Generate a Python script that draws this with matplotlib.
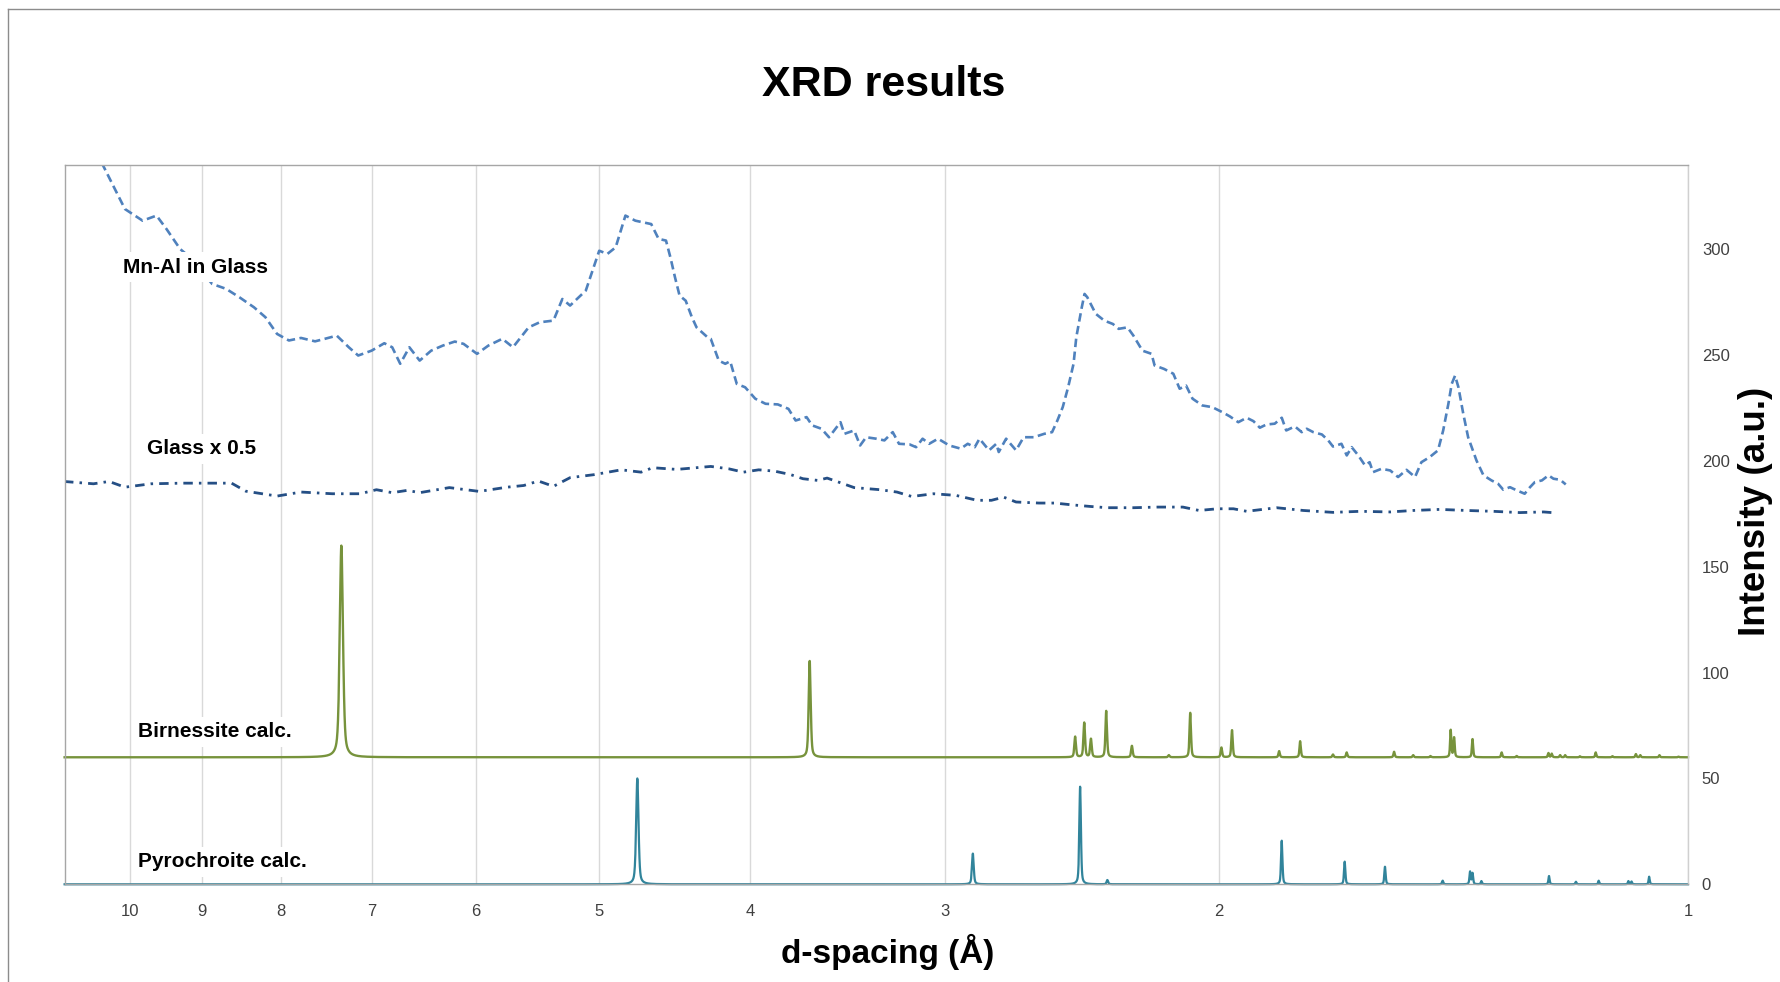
import numpy as np
import matplotlib
matplotlib.use("Agg")
import matplotlib.pyplot as plt
from matplotlib.lines import Line2D

plt.rcParams['font.family'] = ['Liberation Sans', 'DejaVu Sans']

# ---------------- data ----------------
# Measured: Mn-Al in Glass (d-spacing in Angstrom, intensity a.u.)
mnal_d = [10.60, 10.41, 10.08, 9.82, 9.62, 9.48, 9.29, 9.10, 8.97, 8.86, 8.68, 8.51,
          8.33, 8.19, 8.05, 7.91, 7.77, 7.61, 7.50, 7.37, 7.24, 7.14, 7.00, 6.87,
          6.79, 6.71, 6.62, 6.52, 6.41, 6.30, 6.19, 6.11, 5.99, 5.89, 5.77, 5.68,
          5.55, 5.46, 5.35, 5.28, 5.22, 5.10, 5.00, 4.94, 4.88, 4.81, 4.74, 4.63,
          4.58, 4.53, 4.50, 4.47, 4.44, 4.40, 4.36, 4.33, 4.26, 4.24, 4.19, 4.15,
          4.12, 4.08, 4.03, 3.97, 3.91, 3.84, 3.78, 3.74, 3.68, 3.65, 3.60, 3.56,
          3.50, 3.48, 3.43, 3.40, 3.37, 3.32, 3.28, 3.24, 3.21, 3.16, 3.13, 3.10,
          3.07, 3.03, 2.98, 2.93, 2.90, 2.87, 2.85, 2.81, 2.78, 2.77, 2.74, 2.70,
          2.67, 2.63, 2.59, 2.56, 2.54, 2.52, 2.50, 2.48, 2.47, 2.45, 2.44, 2.43,
          2.40, 2.37, 2.34, 2.32, 2.29, 2.27, 2.24, 2.21, 2.20, 2.17, 2.14, 2.12,
          2.10, 2.08, 2.05, 2.02, 1.99, 1.968, 1.944, 1.920, 1.901, 1.883, 1.865,
          1.842, 1.823, 1.811, 1.788, 1.770, 1.757, 1.740, 1.718, 1.702, 1.690,
          1.669, 1.656, 1.644, 1.628, 1.612, 1.601, 1.593, 1.573, 1.553, 1.535,
          1.516, 1.497, 1.483, 1.465, 1.447, 1.436, 1.425, 1.418, 1.411, 1.404,
          1.394, 1.384, 1.367, 1.353, 1.337, 1.324, 1.314, 1.301, 1.288, 1.273,
          1.263, 1.254, 1.241, 1.229, 1.220, 1.208, 1.198]
mnal_i = [352.0, 339.5, 319.0, 313.5, 315.9, 309.6, 300.1, 294.6, 288.3, 283.6, 281.3, 277.3,
          272.6, 267.9, 260.0, 256.9, 258.1, 256.5, 257.7, 259.2, 253.7, 249.8, 252.1, 255.6,
          253.7, 245.9, 253.7, 247.4, 252.1, 254.5, 256.4, 255.3, 250.6, 254.5, 257.7, 253.7,
          263.1, 265.5, 266.3, 276.5, 273.4, 280.5, 299.3, 297.8, 300.9, 315.9, 313.5, 311.9,
          304.9, 304.1, 296.0, 286.7, 278.1, 275.7, 267.9, 263.1, 258.4, 257.7, 247.4, 245.9,
          247.1, 236.4, 234.8, 229.4, 227.0, 226.7, 224.6, 219.1, 220.7, 216.8, 215.2, 211.2,
          218.3, 212.8, 214.4, 207.3, 211.2, 210.5, 209.7, 213.6, 208.1, 207.8, 206.5, 210.5,
          208.1, 210.5, 207.3, 205.8, 208.1, 206.5, 210.5, 205.0, 208.1, 204.2, 210.5, 205.0,
          211.2, 211.2, 212.8, 213.6, 219.1, 225.4, 234.8, 245.9, 258.4, 272.6, 278.9, 277.3,
          269.5, 266.3, 264.7, 262.4, 263.1, 259.2, 252.1, 250.6, 245.1, 243.5, 241.2, 234.1,
          235.6, 229.4, 226.2, 225.4, 223.0, 221.0, 218.3, 220.4, 218.8, 215.7, 217.2,
          217.6, 220.4, 214.4, 216.3, 213.6, 215.2, 213.6, 212.5, 209.7, 206.8,
          208.1, 202.6, 206.5, 202.6, 197.9, 199.4, 194.7, 196.3, 195.5, 192.4,
          195.8, 192.4, 199.4, 201.8, 205.0, 214.4, 227.0, 236.4, 240.3, 234.8,
          222.3, 211.2, 200.2, 193.2, 190.8, 189.2, 186.4, 187.6, 186.1, 184.5,
          187.6, 190.0, 190.8, 193.2, 191.6, 191.1, 188.9]

# Measured: Glass x 0.5
glass_d = [11.03, 10.56, 10.32, 10.08, 9.70, 9.26, 8.79, 8.61, 8.43, 8.05, 7.77, 7.42,
           7.12, 6.95, 6.79, 6.64, 6.52, 6.24, 5.97, 5.73, 5.59, 5.47, 5.35, 5.22,
           5.04, 4.84, 4.70, 4.62, 4.46, 4.41, 4.24, 4.13, 4.04, 3.95, 3.86, 3.77,
           3.70, 3.62, 3.57, 3.51, 3.43, 3.30, 3.22, 3.15, 3.05, 2.95, 2.86, 2.80,
           2.75, 2.70, 2.61, 2.55, 2.49, 2.42, 2.36, 2.27, 2.19, 2.11, 2.06, 2.005,
           1.958, 1.920, 1.837, 1.766, 1.690, 1.623, 1.553, 1.501, 1.443, 1.387,
           1.334, 1.282, 1.238, 1.213]
glass_i = [190.3, 189.2, 190.3, 187.6, 189.2, 189.5, 189.5, 189.5, 185.7, 183.4, 185.3, 184.5,
           184.5, 186.4, 185.0, 186.1, 185.0, 187.4, 185.6, 187.6, 188.4, 190.5, 188.0, 192.1,
           193.5, 195.8, 194.7, 196.8, 196.0, 196.3, 197.4, 196.3, 194.7, 195.8, 195.2, 193.6,
           191.6, 190.8, 191.9, 190.0, 187.4, 186.4, 185.3, 183.2, 184.5, 183.7, 181.4, 181.4,
           182.9, 180.6, 180.1, 180.1, 179.3, 178.5, 177.9, 177.9, 178.2, 178.2, 176.6, 177.4,
           177.4, 176.2, 177.9, 176.6, 175.7, 176.2, 175.9, 176.6, 177.1, 176.6,
           176.2, 175.6, 175.9, 175.4]

# Calculated patterns: peak positions (d, Angstrom) and peak-top intensities (offset scale)
birn_base = 60.0
birn_peak_d = [7.32, 3.663, 2.474, 2.441, 2.417, 2.363, 2.275, 2.154, 2.087, 1.993,
               1.962, 1.830, 1.774, 1.690, 1.656, 1.544, 1.501, 1.463, 1.420, 1.413,
               1.375, 1.317, 1.288, 1.229, 1.223, 1.208, 1.199, 1.173, 1.146, 1.118,
               1.080, 1.073, 1.043, 1.014]
birn_peak_i = [160.0, 105.5, 69.7, 76.3, 68.6, 81.9, 65.4, 61.0, 81.0, 64.6,
               72.8, 62.9, 67.6, 61.3, 62.3, 62.6, 61.0, 60.6, 72.8, 69.2,
               68.6, 62.3, 60.6, 62.0, 61.7, 61.0, 61.0, 60.5, 62.3, 60.5,
               61.5, 61.0, 61.0, 60.3]

pyro_base = 0.0
pyro_peak_d = [4.726, 2.878, 2.456, 2.359, 1.823, 1.661, 1.565, 1.437, 1.380, 1.375,
               1.357, 1.228, 1.180, 1.141, 1.092, 1.087, 1.059]
pyro_peak_i = [50.0, 14.5, 46.1, 2.0, 20.6, 10.7, 8.3, 1.7, 5.9, 5.2,
               1.5, 3.9, 1.2, 1.7, 1.5, 1.3, 3.6]

x_ticks = [10, 9, 8, 7, 6, 5, 4, 3, 2, 1]
x_tick_labels = ["10", "9", "8", "7", "6", "5", "4", "3", "2", "1"]
y_ticks = [0, 50, 100, 150, 200, 250, 300]

series_labels = ["Mn-Al in Glass", "Glass x 0.5", "Birnessite calc.", "Pyrochroite calc."]

# ---------------- helpers ----------------
D_MIN, D_MAX = 1.0, 11.02
logd = np.linspace(np.log10(D_MIN), np.log10(D_MAX), 40000)
d_grid = 10 ** logd


def calc_pattern(peak_d, peak_i, base):
    """Sum of pseudo-Voigt peaks on a log-d grid (calculated powder pattern)."""
    y = np.full_like(logd, base)
    for pd_, pi_ in zip(peak_d, peak_i):
        w = 0.0006 + 0.00025 * pd_
        x = (logd - np.log10(pd_)) / w
        prof = 0.5 * np.exp(-4 * np.log(2) * x ** 2) + 0.5 / (1 + 4 * x ** 2)
        y += (pi_ - base) * prof
    return y


birn_curve = calc_pattern(birn_peak_d, birn_peak_i, birn_base)
pyro_curve = calc_pattern(pyro_peak_d, pyro_peak_i, pyro_base)

# ---------------- figure ----------------
W, H = 1780, 982
fig = plt.figure(figsize=(W / 100, H / 100), dpi=100)
fig.patch.set_facecolor('white')

ax = fig.add_axes([0.0363, 0.0995, 0.9120, 0.7329])
ax.set_xscale('log')
ax.set_xlim(D_MAX, D_MIN)
ax.set_ylim(0, 340)

c_mnal = '#4F81BD'
c_glass = '#254F85'
c_birn = '#77933C'
c_pyro = '#31849B'

ax.plot(mnal_d, mnal_i, color=c_mnal, lw=1.9, ls=(0, (3.2, 1.7)), zorder=2)
ax.plot(glass_d, glass_i, color=c_glass, lw=2.0, ls=(0, (3.4, 2.2, 0.9, 2.2)), zorder=2)
ax.plot(d_grid, birn_curve, color=c_birn, lw=1.7, zorder=2, clip_on=False)
ax.plot(d_grid, pyro_curve, color=c_pyro, lw=1.6, zorder=2, clip_on=False)

# axes styling
ax.set_xticks(x_ticks)
ax.set_xticklabels(x_tick_labels)
ax.xaxis.set_minor_locator(matplotlib.ticker.NullLocator())
ax.set_yticks(y_ticks)
ax.yaxis.tick_right()
ax.tick_params(axis='x', length=0, pad=14, labelsize=12, colors='#404040')
ax.tick_params(axis='y', length=0, pad=10, labelsize=12, colors='#404040')

ax.grid(axis='x', color='#D9D9D9', lw=1.0)
ax.grid(axis='y', visible=False)
ax.set_axisbelow(True)
for s in ['left', 'top', 'bottom']:
    ax.spines[s].set_color('#A6A6A6')
    ax.spines[s].set_linewidth(1.0)
ax.spines['right'].set_color('#D0D0D0')
ax.spines['right'].set_linewidth(1.0)

# in-plot series labels
label_pos = [(10.11, 291.5), (9.76, 205.8), (9.89, 72.0), (9.89, 10.7)]
for txt, (xd, yv) in zip(series_labels, label_pos):
    ax.text(xd, yv, txt, ha='left', va='center', fontsize=15, fontweight='bold',
            color='black', zorder=5,
            bbox=dict(facecolor='white', edgecolor='none', pad=4))

# titles
fig.text(0.4966, 0.9135, 'XRD results', ha='center', va='center',
         fontsize=31, fontweight='bold', color='black')
fig.text(0.4989, 0.0309, 'd-spacing (Å)', ha='center', va='center',
         fontsize=24, fontweight='bold', color='black')
fig.text(0.9865, 0.4796, 'Intensity (a.u.)', ha='center', va='center', rotation=90,
         fontsize=26.5, fontweight='bold', color='black')

# outer chart border (left and top visible in the reference)
bx, by = 8 / W, 1 - 9 / H
fig.add_artist(Line2D([bx, bx], [0, by], transform=fig.transFigure, color='#8C8C8C', lw=1.0))
fig.add_artist(Line2D([bx, 1], [by, by], transform=fig.transFigure, color='#8C8C8C', lw=1.0))

fig.savefig('out.png', dpi=100, facecolor='white')
